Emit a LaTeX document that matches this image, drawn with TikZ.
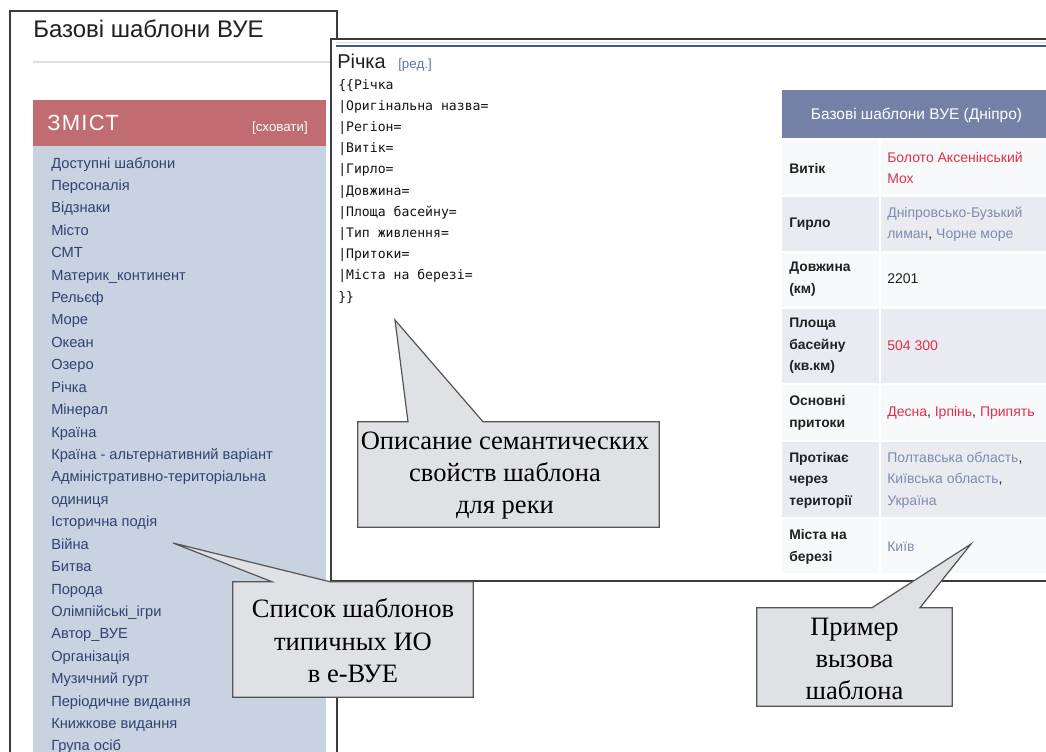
\documentclass[tikz,border=0pt]{standalone}
\usepackage{fontspec}
\setmainfont{Liberation Sans}
\newfontfamily\calloutfont{Liberation Serif}
\newfontfamily\codefont{DejaVu Sans Mono}
\usetikzlibrary{calc}
\definecolor{panelline}{RGB}{60,60,60}
\definecolor{tocred}{RGB}{192,108,112}
\definecolor{listbg}{RGB}{200,210,225}
\definecolor{listblue}{RGB}{48,66,115}
\definecolor{thead}{RGB}{116,128,166}
\definecolor{rowlight}{RGB}{248,249,250}
\definecolor{rowdark}{RGB}{234,235,240}
\definecolor{linkred}{RGB}{228,46,74}
\definecolor{linkgrey}{RGB}{125,140,175}
\definecolor{callfill}{RGB}{224,225,228}
\definecolor{callline}{RGB}{85,85,85}
\definecolor{blueline}{RGB}{70,90,140}
\definecolor{greyline}{RGB}{222,222,222}
\definecolor{editblue}{RGB}{95,115,165}
\tikzset{
  item/.style={anchor=mid west, inner sep=0pt, text=listblue, font=\fontsize{11}{12}\selectfont},
  codeln/.style={anchor=mid west, inner sep=0pt, font=\codefont\fontsize{9.85}{12}\selectfont, text=black!92},
  lab/.style={anchor=west, inner sep=0pt, align=left, font=\bfseries\fontsize{10.4}{16.1}\selectfont, text=black!87},
  val/.style={anchor=west, inner sep=0pt, align=left, font=\fontsize{10.5}{16.1}\selectfont, text=black!87},
  callbox/.style={inner sep=0pt, align=center, font=\calloutfont\fontsize{19.9}{24.3}\selectfont, text=black},
  callout/.style={fill=callfill, draw=callline, line width=0.9pt, line join=miter},
  panel/.style={draw=panelline, line width=0.9pt, fill=white},
}
\begin{document}
\begin{tikzpicture}[x=0.75pt,y=-0.75pt]
\useasboundingbox (0,0) rectangle (1046,751);
\clip (0,0) rectangle (1046,751);
\fill[white] (0,0) rectangle (1046,751);
% ---------- left panel ----------
\draw[panel] (10,11) rectangle (337,770);
\node[anchor=base west, inner sep=0pt, font=\fontsize{18}{20}\selectfont, text=black!88] (ltitle) at (33,37) {Базові шаблони ВУЕ};
\draw[greyline, line width=1.3pt] (33,62) -- (331,62);
\fill[tocred] (33,100) rectangle (326,146);
\fill[listbg] (33,146) rectangle (326,770);
\node[anchor=base west, inner sep=0pt, text=white, font=\fontsize{16.5}{18}\selectfont\addfontfeature{LetterSpace=6}] (toc) at (47,130) {ЗМІСТ};
\node[anchor=base east, inner sep=0pt, text=white, font=\fontsize{10}{11}\selectfont] (hide) at (308,131) {[сховати]};
\foreach \t [count=\i] in {Доступні шаблони, Персоналія, Відзнаки, Місто, СМТ, Материк\_континент, Рельєф, Море, Океан, Озеро, Річка, Мінерал, Країна, Країна - альтернативний варіант, Адміністративно-територіальна, одиниця, Історична подія, Війна, Битва, Порода, Олімпійські\_ігри, Автор\_ВУЕ, Організація, Музичний гурт, Періодичне видання, Книжкове видання, Група осіб}
  \node[item] (li\i) at (51,{164.5+22.42*(\i-1)}) {\t};
% ---------- right panel ----------
\draw[panel] (331,39) rectangle (1070,581);
\draw[greyline, line width=0.8pt] (336,42.5) -- (1046,42.5);
\draw[blueline, line width=1.3pt] (336,46) -- (1046,46);
\node[anchor=base west, inner sep=0pt, font=\fontsize{15}{17}\selectfont, text=black!88] (rtitle) at (337,68) {Річка};
\node[anchor=base west, inner sep=0pt, font=\fontsize{10}{11}\selectfont, text=editblue] (edit) at (398,68) {[ред.]};
\foreach \t [count=\i] in {\{\{Річка, |Оригінальна назва=, |Регіон=, |Витік=, |Гирло=, |Довжина=, |Площа басейну=, |Тип живлення=, |Притоки=, |Міста на березі=, \}\}}
  \node[codeln] (code\i) at (338,{85.5+21.2*(\i-1)}) {\t};
% ---------- infobox table ----------
\fill[thead] (782,90) rectangle (1070,138);
\node[inner sep=0pt, text=white, font=\fontsize{11.6}{13}\selectfont] (thtext) at (916.5,115) {Базові шаблони ВУЕ (Дніпро)};
\fill[rowlight] (782,140) rectangle (879,195);  \fill[rowlight] (881,140) rectangle (1070,195);
\fill[rowdark]  (782,197) rectangle (879,251);  \fill[rowdark]  (881,197) rectangle (1070,251);
\fill[rowlight] (782,253) rectangle (879,307);  \fill[rowlight] (881,253) rectangle (1070,307);
\fill[rowdark]  (782,309) rectangle (879,383);  \fill[rowdark]  (881,309) rectangle (1070,383);
\fill[rowlight] (782,385) rectangle (879,440);  \fill[rowlight] (881,385) rectangle (1070,440);
\fill[rowdark]  (782,442) rectangle (879,517);  \fill[rowdark]  (881,442) rectangle (1070,517);
\fill[rowlight] (782,519) rectangle (879,573);  \fill[rowlight] (881,519) rectangle (1070,573);
\node[lab] (l1) at (789,168) {Витік};
\node[val] (v1) at (887,168) {{\color{linkred}Болото Аксенінський}\\{\color{linkred}Мох}};
\node[lab] (l2) at (789,224) {Гирло};
\node[val] (v2) at (887,224) {{\color{linkgrey}Дніпровсько-Бузький}\\{\color{linkgrey}лиман}, {\color{linkgrey}Чорне море}};
\node[lab] (l3) at (789,279) {Довжина\\(км)};
\node[val] (v3) at (887,279) {2201};
\node[lab] (l4) at (789,346) {Площа\\басейну\\(кв.км)};
\node[val] (v4) at (887,346) {{\color{linkred}504 300}};
\node[lab] (l5) at (789,413) {Основні\\притоки};
\node[val] (v5) at (887,413) {{\color{linkred}Десна}, {\color{linkred}Ірпінь}, {\color{linkred}Припять}};
\node[lab] (l6) at (789,480) {Протікає\\через\\території};
\node[val] (v6) at (887,480) {{\color{linkgrey}Полтавська область},\\{\color{linkgrey}Київська область},\\{\color{linkgrey}Україна}};
\node[lab] (l7) at (789,547) {Міста на\\березі};
\node[val] (v7) at (887,547) {{\color{linkgrey}Київ}};
% ---------- callouts ----------
\node[inner sep=0pt, minimum width=225.75pt, minimum height=78.75pt] (c1) at (508.5,474.5) {};
\coordinate (t1) at (395,320);
\node[inner sep=0pt, minimum width=180pt, minimum height=86.25pt] (c2) at (353,639.5) {};
\coordinate (t2) at (173,543);
\node[inner sep=0pt, minimum width=146.25pt, minimum height=73.5pt] (c3) at (854.5,657) {};
\coordinate (t3) at (971,544);
\draw[callout] (c1.north west) -- (408,0 |- c1.north) -- (t1) -- (483,0 |- c1.north) -- (c1.north east) -- (c1.south east) -- (c1.south west) -- cycle;
\draw[callout] (c2.north west) -- (272,0 |- c2.north) -- (t2) -- (330,0 |- c2.north) -- (c2.north east) -- (c2.south east) -- (c2.south west) -- cycle;
\draw[callout] (c3.north west) -- (872,0 |- c3.north) -- (t3) -- (920,0 |- c3.north) -- (c3.north east) -- (c3.south east) -- (c3.south west) -- cycle;
\node[callbox] (c1t) at (505,475.5) {Описание семантических\\свойств шаблона\\для реки};
\node[callbox] (c2t) at (353,641) {Список шаблонов\\типичных ИО\\в е-ВУЕ};
\node[callbox] (c3t) at (854.5,659) {Пример\\вызова\\шаблона};
\end{tikzpicture}
\end{document}
